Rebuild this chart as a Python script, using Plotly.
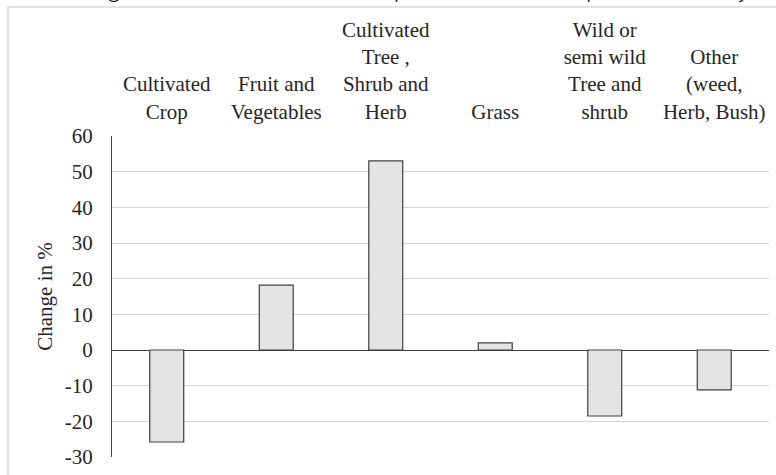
import plotly.graph_objects as go

categories = [
    "Cultivated<br>Crop",
    "Fruit and<br>Vegetables",
    "Cultivated<br>Tree ,<br>Shrub and<br>Herb",
    "Grass",
    "Wild or<br>semi wild<br>Tree and<br>shrub",
    "Other<br>(weed,<br>Herb, Bush)",
]
change_pct = [-25.8, 18.2, 53.0, 2.0, -18.5, -11.2]
y_ticks = [60, 50, 40, 30, 20, 10, 0, -10, -20, -30]
y_title = "Change in %"
caption = "Net change in the extent of different component classes at the plots in the survey"

W, H = 776, 475
L, R, T, B = 112, 7, 136, 18
pw, ph = W - L - R, H - T - B

def px_x(px):
    return (px - L) / pw

def px_y(py):
    return (H - B - py) / ph

serif = "Liberation Serif, Times New Roman, serif"
txt = "#262626"

fig = go.Figure(go.Bar(
    x=categories, y=change_pct, width=0.31,
    marker=dict(color="#e4e4e4", line=dict(color="#404040", width=1.2)),
))

fig.update_layout(
    width=W, height=H,
    margin=dict(l=L, r=R, t=T, b=B),
    paper_bgcolor="white", plot_bgcolor="white",
    showlegend=False,
    font=dict(family=serif, size=21, color=txt),
    xaxis=dict(side="top", showgrid=False, showline=False, ticks="",
               tickfont=dict(family=serif, size=21, color=txt),
               ticklabelstandoff=12),
    yaxis=dict(range=[-30, 60], tickvals=y_ticks, ticktext=[str(v) for v in y_ticks],
               showgrid=True, gridcolor="#d4d4d4", gridwidth=1,
               zeroline=True, zerolinecolor="#404040", zerolinewidth=1.2,
               showline=True, linecolor="#404040", linewidth=1.2,
               ticks="", ticklabelstandoff=14,
               tickfont=dict(family=serif, size=21, color=txt),
               title=dict(text=y_title, standoff=6,
                          font=dict(family=serif, size=21, color=txt))),
    shapes=[dict(type="rect", xref="paper", yref="paper",
                 x0=px_x(8), x1=px_x(790), y0=px_y(490), y1=px_y(7),
                 line=dict(color="#d9d9d9", width=1.5), fillcolor="rgba(0,0,0,0)",
                 layer="below")],
    annotations=[dict(text=caption, xref="paper", yref="paper",
                      x=px_x(27), y=px_y(6), xanchor="left", yanchor="bottom",
                      showarrow=False,
                      font=dict(family="Open Sans, sans-serif", size=19, color="#222"))],
)

fig.write_html("out.html", config={"displayModeBar": False},
               post_script="document.body.style.margin='0';document.body.style.overflow='hidden';")
